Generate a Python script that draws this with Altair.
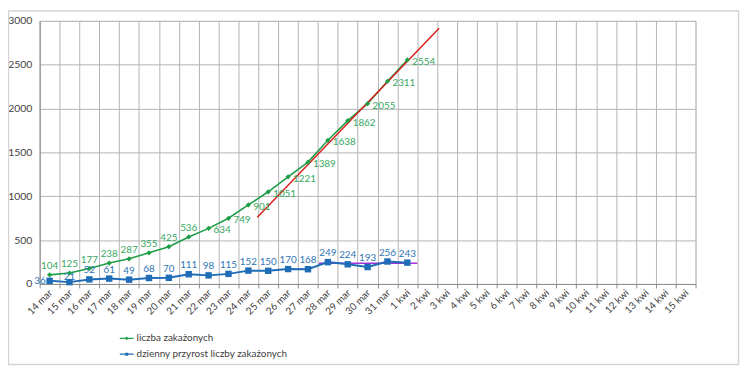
import json
import altair as alt
import pandas as pd

# ---------------- data ----------------
dates = ["14 mar", "15 mar", "16 mar", "17 mar", "18 mar", "19 mar", "20 mar",
         "21 mar", "22 mar", "23 mar", "24 mar", "25 mar", "26 mar", "27 mar",
         "28 mar", "29 mar", "30 mar", "31 mar",
         "1 kwi", "2 kwi", "3 kwi", "4 kwi", "5 kwi", "6 kwi", "7 kwi", "8 kwi",
         "9 kwi", "10 kwi", "11 kwi", "12 kwi", "13 kwi", "14 kwi", "15 kwi"]
cumulative = [104, 125, 177, 238, 287, 355, 425, 536, 634, 749, 901, 1051,
              1221, 1389, 1638, 1862, 2055, 2311, 2554]
daily = [36, 21, 52, 61, 49, 68, 70, 111, 98, 115, 152, 150, 170, 168,
         249, 224, 193, 256, 243]
trend_red_x = [10.45, 19.6]
trend_red_y = [760, 2916]
trend_purple_x = [13.55, 18.5]
trend_purple_y = [236, 236]
series_names = ["liczba zakażonych", "dzienny przyrost liczby zakażonych"]
y_ticks = [0, 500, 1000, 1500, 2000, 2500, 3000]

# ---------------- styling ----------------
GREEN = "#1f9e48"
GREEN_TXT = "#35a85e"
BLUE = "#1f6cb7"
BLUE_TXT = "#2e75b6"
RED = "#d7201c"
PURPLE = "#a331d6"
GRID = "#b3b3b3"
TXT = "#404040"
FONT = "Lato"

n = len(dates)
green_df = pd.DataFrame({"i": list(range(len(cumulative))), "v": cumulative})
green_df["pos"] = ["above" if k < 8 else "right" for k in range(len(cumulative))]
blue_df = pd.DataFrame({"i": list(range(len(daily))), "v": daily})
blue_df["pos"] = ["left" if k == 0 else ("low" if k == 1 else "above")
                  for k in range(len(daily))]
red_df = pd.DataFrame({"i": trend_red_x, "v": trend_red_y})
purple_df = pd.DataFrame({"i": trend_purple_x, "v": trend_purple_y})
legend_df = pd.DataFrame({"series": series_names})

label_arr = json.dumps(dates + [""], ensure_ascii=False)
x_vals = [k - 0.5 for k in range(n + 1)]

xscale = alt.Scale(domain=[-0.5, n - 0.5], nice=False, zero=False)
yscale = alt.Scale(domain=[0, 3000], nice=False)

x_enc = alt.X("i:Q", scale=xscale, title=None,
              axis=alt.Axis(values=x_vals, tickCount=200,
                            labelExpr=f"{label_arr}[round(datum.value + 0.5)]",
                            labelAngle=-45, labelAlign="right", labelBaseline="middle",
                            labelOffset=11, labelPadding=3, labelFontSize=10,
                            labelColor=TXT, labelFont=FONT, labelOverlap=False,
                            labelBound=False, labelFlush=False,
                            grid=True, gridColor=GRID, tickColor="#8c8c8c", tickSize=4,
                            domainColor="#8c8c8c"))
y_enc = alt.Y("v:Q", scale=yscale, title=None,
              axis=alt.Axis(values=y_ticks, format="d", grid=True, gridColor=GRID,
                            ticks=False, labelPadding=8, labelFontSize=10.5,
                            labelColor=TXT, labelFont=FONT, domainColor="#8c8c8c"))

base_g = alt.Chart(green_df)
base_b = alt.Chart(blue_df)

green_line = base_g.mark_line(color=GREEN, strokeWidth=1.6).encode(x=x_enc, y=y_enc)
green_pts = base_g.mark_point(shape="diamond", filled=True, color=GREEN, size=28,
                              opacity=1).encode(x="i:Q", y="v:Q")
green_above = base_g.transform_filter("datum.pos == 'above'").mark_text(
    color=GREEN_TXT, font=FONT, fontSize=10, dy=-9).encode(x="i:Q", y="v:Q", text="v:Q")
green_right = base_g.transform_filter("datum.pos == 'right'").mark_text(
    color=GREEN_TXT, font=FONT, fontSize=10, align="left", dx=5, dy=2).encode(
    x="i:Q", y="v:Q", text="v:Q")

blue_line = base_b.mark_line(color=BLUE, strokeWidth=2).encode(x="i:Q", y="v:Q")
blue_pts = base_b.mark_point(shape="square", filled=True, color=BLUE, size=42,
                             opacity=1).encode(x="i:Q", y="v:Q")
blue_above = base_b.transform_filter("datum.pos == 'above'").mark_text(
    color=BLUE_TXT, font=FONT, fontSize=10, dy=-9).encode(x="i:Q", y="v:Q", text="v:Q")
blue_left = base_b.transform_filter("datum.pos == 'left'").mark_text(
    color=BLUE_TXT, font=FONT, fontSize=10, align="right", dx=-4).encode(
    x="i:Q", y="v:Q", text="v:Q")
blue_low = base_b.transform_filter("datum.pos == 'low'").mark_text(
    color=BLUE_TXT, font=FONT, fontSize=10, dy=-5).encode(x="i:Q", y="v:Q", text="v:Q")

red_line = alt.Chart(red_df).mark_line(color=RED, strokeWidth=1.5).encode(x="i:Q", y="v:Q")
purple_line = alt.Chart(purple_df).mark_line(color=PURPLE, strokeWidth=1.5).encode(
    x="i:Q", y="v:Q")

green_sym = "M-1,-0.08H1V0.08H-1Z M0,-0.27L0.27,0L0,0.27L-0.27,0Z"
blue_sym = "M-1,-0.09H1V0.09H-1Z M-0.22,-0.22H0.22V0.22H-0.22Z"

legend_layer = alt.Chart(legend_df).transform_filter("false").mark_point(
    filled=True, opacity=1, strokeWidth=0).encode(
    color=alt.Color("series:N", scale=alt.Scale(domain=series_names, range=[GREEN, BLUE]),
                    legend=alt.Legend(title=None, orient="none", legendX=81, legendY=314,
                                      direction="vertical", symbolSize=196,
                                      symbolStrokeWidth=0, labelFontSize=10,
                                      labelColor=TXT, labelFont=FONT, rowPadding=4,
                                      labelOffset=3, padding=0, labelLimit=400)),
    shape=alt.Shape("series:N", scale=alt.Scale(domain=series_names,
                                                 range=[green_sym, blue_sym])))

frame = alt.Chart(pd.DataFrame({"a": [0]})).mark_rect(
    fill="transparent", stroke="#d4d4d4", strokeWidth=1.5).encode(
    x=alt.value(-31.5), x2=alt.value(706.5), y=alt.value(-10), y2=alt.value(347.5))

chart = alt.layer(
    frame, green_line, red_line, purple_line, blue_line, green_pts, blue_pts,
    green_above, green_right, blue_above, blue_left, blue_low, legend_layer
).properties(
    width=663, height=266,
    autosize=alt.AutoSizeParams(type="none"),
    padding={"left": 32, "top": 11, "right": 50, "bottom": 84},
).configure_view(stroke=None).configure(background="white")

chart.save("out.html", embed_options={"renderer": "svg", "actions": False})
